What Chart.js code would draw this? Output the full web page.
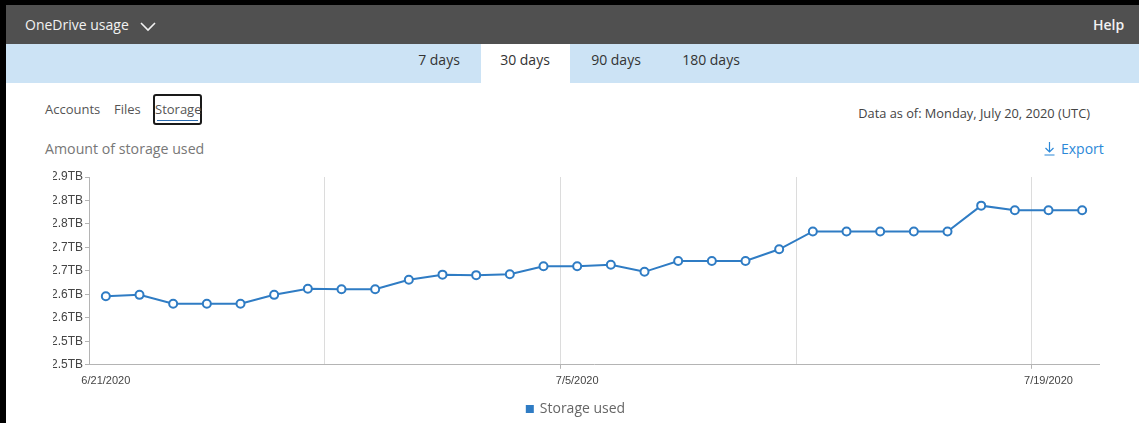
<!DOCTYPE html>
<html>
<head>
<meta charset="utf-8">
<title>OneDrive usage</title>
<script src="https://cdn.jsdelivr.net/npm/chart.js@4/dist/chart.umd.min.js"></script>
<style>
  html, body { margin: 0; padding: 0; background: #fff; }
  body { width: 1139px; height: 423px; position: relative; overflow: hidden; font-family: "Open Sans", "Noto Sans", sans-serif; }
  .abs { position: absolute; white-space: nowrap; }
  #edgeLeft { left: 0; top: 0; width: 6px; height: 423px; background: #000; }
  #edgeTop { left: 0; top: 0; width: 1139px; height: 5px; background: #000; }
  #header { left: 6px; top: 5px; right: 0; height: 39px; background: #505050; }
  #title { left: 25px; top: 15px; font-size: 14px; line-height: 20px; color: #f2f2f2; }
  #chevron { left: 139px; top: 20px; }
  #help { left: 1093px; top: 15px; font-size: 14px; line-height: 20px; font-weight: 600; color: #f2f2f2; }
  #band { left: 6px; top: 44px; right: 0; height: 39px; background: #cce3f5; }
  #tabActive { left: 481px; top: 44px; width: 89px; height: 39px; background: #fff; }
  .tab { top: 50px; font-size: 14px; line-height: 20px; color: #333; transform: translateX(-50%); }
  .sub { top: 99px; font-size: 13px; line-height: 20px; color: #555; }
  #storageBox { left: 153px; top: 94px; width: 45px; height: 27px; border: 2px solid #1a1a1a; border-radius: 3px; }
  #storageLine { left: 157px; top: 120px; width: 41px; height: 1px; background: #2b6cb0; }
  #amount { left: 45px; top: 139px; font-size: 14.2px; line-height: 20px; color: #777; }
  #asOf { right: 49px; top: 104px; font-size: 12.8px; line-height: 18px; color: #444; }
  #export { left: 1044px; top: 139px; font-size: 14px; line-height: 20px; color: #2b88d8; }
  #export svg { vertical-align: -2px; margin-right: 6px; }
  #chartWrap { left: 0; top: 160px; width: 1139px; height: 266px; }
</style>
</head>
<body>
<div class="abs" id="header"></div>
<div class="abs" id="title">OneDrive usage</div>
<svg class="abs" id="chevron" width="18" height="12" viewBox="0 0 18 12">
  <polyline points="2,3 9,10 16,3" fill="none" stroke="#f2f2f2" stroke-width="1.6"/>
</svg>
<div class="abs" id="help">Help</div>
<div class="abs" id="band"></div>
<div class="abs" id="tabActive"></div>
<div class="abs tab" style="left:439px">7 days</div>
<div class="abs tab" style="left:525px">30 days</div>
<div class="abs tab" style="left:616px">90 days</div>
<div class="abs tab" style="left:711px">180 days</div>
<div class="abs sub" style="left:45px">Accounts</div>
<div class="abs sub" style="left:114px">Files</div>
<div class="abs" id="storageBox"></div>
<div class="abs" id="storageLine"></div>
<div class="abs sub" style="left:155px">Storage</div>
<div class="abs" id="amount">Amount of storage used</div>
<div class="abs" id="asOf">Data as of: Monday, July 20, 2020 (UTC)</div>
<div class="abs" id="export"><svg width="11" height="15" viewBox="0 0 11 15"><path d="M5.5 1 V11 M1.5 7 L5.5 11 L9.5 7 M0.5 14 H10.5" fill="none" stroke="#2b88d8" stroke-width="1.2"/></svg>Export</div>
<div class="abs" id="edgeLeft"></div>
<div class="abs" id="edgeTop"></div>
<div class="abs" id="chartWrap"><canvas id="storageChart" width="1139" height="266"></canvas></div>

<script>
// Daily storage used, in TB
const dates = [
  '6/21/2020', '6/22/2020', '6/23/2020', '6/24/2020', '6/25/2020', '6/26/2020', '6/27/2020',
  '6/28/2020', '6/29/2020', '6/30/2020', '7/1/2020', '7/2/2020', '7/3/2020', '7/4/2020',
  '7/5/2020', '7/6/2020', '7/7/2020', '7/8/2020', '7/9/2020', '7/10/2020', '7/11/2020',
  '7/12/2020', '7/13/2020', '7/14/2020', '7/15/2020', '7/16/2020', '7/17/2020', '7/18/2020',
  '7/19/2020', '7/20/2020'
];
const storageTB = [
  2.646, 2.649, 2.630, 2.630, 2.630, 2.649, 2.662,
  2.661, 2.661, 2.681, 2.692, 2.691, 2.693, 2.710,
  2.710, 2.713, 2.698, 2.721, 2.721, 2.721, 2.746,
  2.784, 2.784, 2.784, 2.784, 2.784, 2.839, 2.829,
  2.829, 2.829
];
const xTickLabels = ['6/21/2020', '7/5/2020', '7/19/2020'];
const yTickLabels = ['2.5TB', '2.5TB', '2.6TB', '2.6TB', '2.7TB', '2.7TB', '2.8TB', '2.8TB', '2.9TB'];

const blue = '#2f7cc4';
const axisGray = '#b4b4b4';

const ctx = document.getElementById('storageChart');
new Chart(ctx, {
  type: 'line',
  data: {
    labels: dates,
    datasets: [{
      label: 'Storage used',
      data: storageTB,
      borderColor: blue,
      backgroundColor: blue,
      borderWidth: 2,
      pointRadius: 4,
      pointBorderWidth: 2,
      pointBackgroundColor: '#fff',
      pointBorderColor: blue,
      tension: 0
    }]
  },
  options: {
    responsive: false,
    animation: false,
    // left padding keeps the legend centred a bit right of the canvas middle;
    // the y labels are drawn out into that padding
    layout: { padding: { left: 53, right: 40, top: 17, bottom: 0 } },
    plugins: {
      tooltip: { enabled: false },
      legend: {
        position: 'bottom',
        labels: {
          boxWidth: 6,
          boxHeight: 6,
          padding: 8,
          color: '#666',
          font: { family: '"Open Sans", sans-serif', size: 14 }
        }
      }
    },
    scales: {
      x: {
        offset: true,
        border: { color: axisGray, width: 1 },
        grid: {
          offset: true,
          drawTicks: true,
          tickLength: 4,
          // weekly separators between categories
          color: c => (c.index > 0 && c.index < dates.length && c.index % 7 === 0) ? '#dcdcdc' : 'transparent',
          tickColor: c => (c.index === 14 || c.index === 28) ? axisGray : 'transparent'
        },
        ticks: {
          autoSkip: false,
          maxRotation: 0,
          padding: 6,
          color: '#444',
          font: { family: 'Arial, "Liberation Sans", sans-serif', size: 11 },
          callback: function (value, index) {
            const lbl = dates[index];
            return xTickLabels.includes(lbl) ? lbl : '';
          }
        }
      },
      y: {
        min: 2.5,
        max: 2.9,
        border: { color: axisGray, width: 1 },
        grid: {
          drawOnChartArea: false,
          drawTicks: true,
          tickLength: 4,
          tickColor: axisGray
        },
        ticks: {
          stepSize: 0.05,
          padding: 2,
          color: '#444',
          font: { family: 'Arial, "Liberation Sans", sans-serif', size: 12 },
          callback: (value, index) => yTickLabels[index]
        },
        afterFit: scale => { scale.width = 36; }
      }
    }
  }
});
</script>
</body>
</html>
